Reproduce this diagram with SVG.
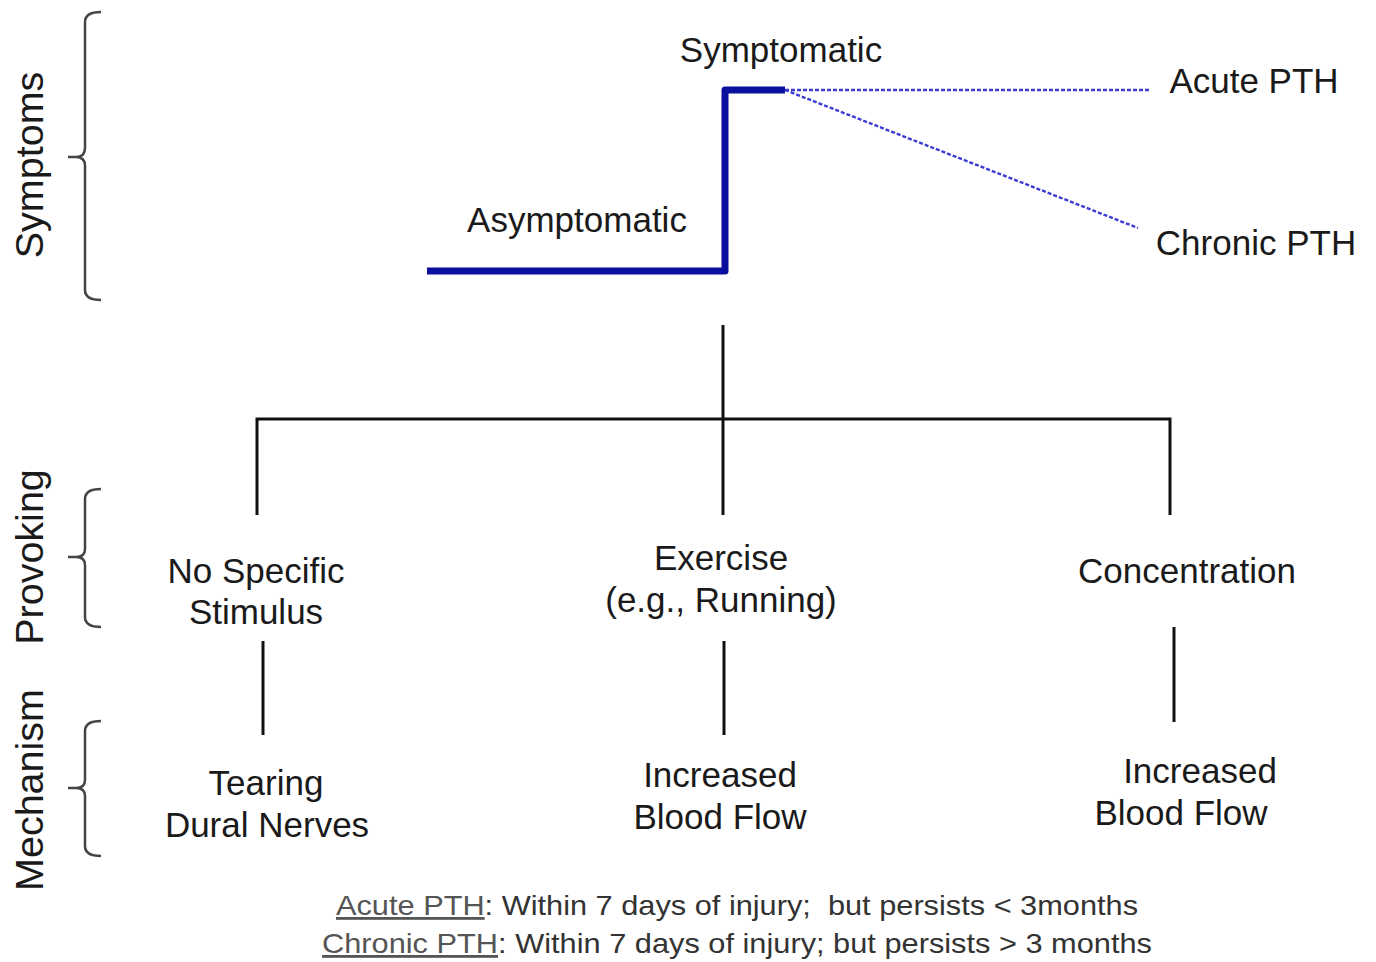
<svg xmlns="http://www.w3.org/2000/svg" width="1376" height="962" viewBox="0 0 1376 962">
<style>
.t{font-family:"Liberation Sans",Arial,sans-serif;font-size:35px;fill:#1a1a1a;text-anchor:middle}
.side{font-family:"Liberation Sans",Arial,sans-serif;font-size:39.5px;fill:#1a1a1a;text-anchor:middle}
.note{font-family:"Liberation Sans",Arial,sans-serif;font-size:28px;fill:#333}
.u{text-decoration:underline;fill:#555}
.brace{fill:none;stroke:#444;stroke-width:2.5}
.tree{fill:none;stroke:#111;stroke-width:3}
.step{fill:none;stroke:#0a0f9e;stroke-width:7;stroke-linejoin:round}
.dash{fill:none;stroke:#3b3bd6;stroke-width:2.4;stroke-dasharray:4 2}
</style>
<rect width="1376" height="962" fill="#fff"/>
<g id="axis-symptoms">
<path class="brace" d="M101,12 Q85,12 85,22 L85,148 Q85,157 76,157 L68,157 M76,157 Q85,157 85,166 L85,290 Q85,300 101,300"/>
<text class="side" transform="translate(43,165) rotate(-90)">Symptoms</text>
</g>
<g id="axis-provoking">
<path class="brace" d="M101,489 Q85,489 85,499 L85,549 Q85,557 76,557 L68,557 M76,557 Q85,557 85,565 L85,617 Q85,627 101,627"/>
<text class="side" transform="translate(43,557) rotate(-90)">Provoking</text>
</g>
<g id="axis-mechanism">
<path class="brace" d="M101,721 Q85,721 85,731 L85,780 Q85,788 76,788 L68,788 M76,788 Q85,788 85,796 L85,846 Q85,856 101,856"/>
<text class="side" transform="translate(43,790) rotate(-90)">Mechanism</text>
</g>
<g id="connectors">
<path class="step" d="M427,271 L725,271 L725,90 L785,90"/>
<path class="dash" d="M785,90 L1150,90"/>
<path class="dash" d="M785,90 L1138,228"/>
<path class="tree" d="M723,325 L723,515"/>
<path class="tree" d="M257,515 L257,419 L1170,419 L1170,515"/>
<path class="tree" d="M263,641 L263,735"/>
<path class="tree" d="M724,641 L724,735"/>
<path class="tree" d="M1174,627 L1174,722"/>
</g>
<g id="node-symptomatic"><text class="t" x="781" y="62">Symptomatic</text></g>
<g id="node-asymptomatic"><text class="t" x="577" y="232">Asymptomatic</text></g>
<g id="node-acute"><text class="t" x="1254" y="93">Acute PTH</text></g>
<g id="node-chronic"><text class="t" x="1256" y="255">Chronic PTH</text></g>
<g id="node-nospecific"><text class="t" x="256" y="583">No Specific</text><text class="t" x="256" y="624">Stimulus</text></g>
<g id="node-exercise"><text class="t" x="721" y="570">Exercise</text><text class="t" x="721" y="612">(e.g., Running)</text></g>
<g id="node-concentration"><text class="t" x="1187" y="583">Concentration</text></g>
<g id="node-tearing"><text class="t" x="266" y="795">Tearing</text><text class="t" x="267" y="837">Dural Nerves</text></g>
<g id="node-blood1"><text class="t" x="720" y="787">Increased</text><text class="t" x="720" y="829">Blood Flow</text></g>
<g id="node-blood2"><text class="t" x="1200" y="783">Increased</text><text class="t" x="1181" y="825">Blood Flow</text></g>
<g id="footnote">
<text class="note" x="336" y="915" textLength="802" lengthAdjust="spacingAndGlyphs"><tspan class="u">Acute PTH</tspan>: Within 7 days of injury;&#160; but persists &lt; 3months</text>
<text class="note" x="322" y="953" textLength="830" lengthAdjust="spacingAndGlyphs"><tspan class="u">Chronic PTH</tspan>: Within 7 days of injury; but persists &gt; 3 months</text>
</g>
</svg>
